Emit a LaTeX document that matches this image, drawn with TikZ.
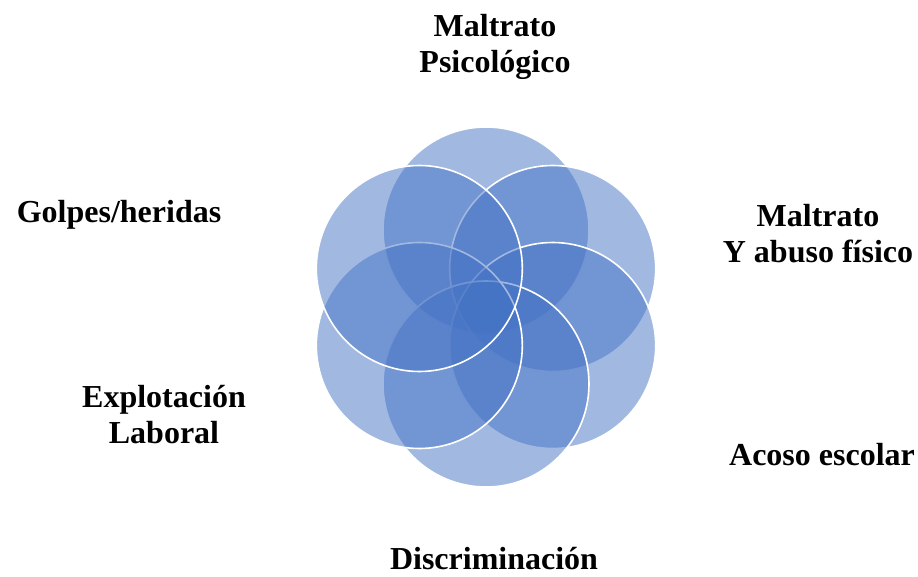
\documentclass[tikz,border=0pt]{standalone}
\usepackage{fontspec}
\setmainfont{Liberation Serif}
\usetikzlibrary{calc}
\definecolor{venblue}{HTML}{4472C4}
\tikzset{
  petal/.style={fill=venblue,fill opacity=0.5,draw=white,line width=1.6pt},
  lbl/.style={font=\fontsize{32}{36}\selectfont\bfseries,align=center,anchor=base,inner sep=0pt}
}
\begin{document}
\begin{tikzpicture}[x=1pt,y=1pt]
      \useasboundingbox (0,0) rectangle (918,576);

      \foreach \a in {90,30,-30,-90,-150,150}
        \draw[petal] ($(486,269)+(\a:77)$) circle[radius=103];

      % base anchor sits on the last line
      \node[lbl] (psico) at (495,503) {Maltrato\\Psicológico};
      \node[lbl] (golpes) at (119,353) {Golpes/heridas};
      \node[lbl] (fisico) at (818,313) {Maltrato\\Y abuso físico};
      \node[lbl] (laboral) at (164,133) {Explotación\\Laboral};
      \node[lbl] (acoso) at (822,111) {Acoso escolar};
      \node[lbl] (discr) at (494,7) {Discriminación};
    \end{tikzpicture}
\end{document}
